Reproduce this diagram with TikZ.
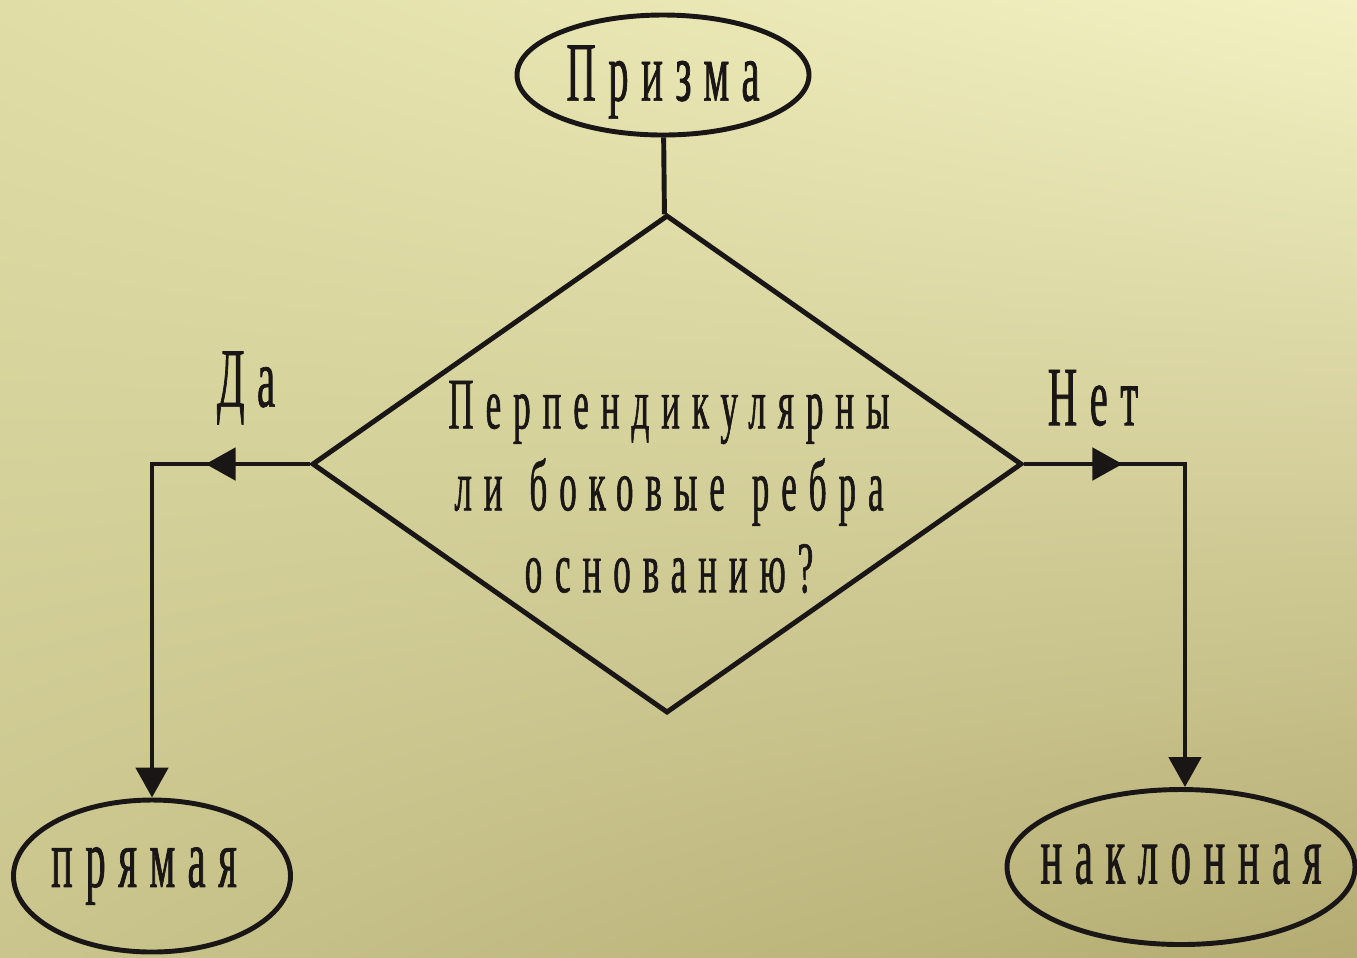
\documentclass[tikz,border=0pt]{standalone}
\usepackage{fontspec}
\usepackage{tikz}
\usetikzlibrary{arrows.meta, shapes.geometric, shadings, calc, positioning, decorations.markings}
\newfontfamily\flowfont[FakeStretch=0.48, LetterSpace=15, FakeBold=0.8]{Liberation Serif}
\newfontfamily\questfont[FakeStretch=0.48, LetterSpace=16.5, WordSpace=1.3, FakeBold=0.8]{Liberation Serif}
\definecolor{bgul}{HTML}{E0DDA6}
\definecolor{bgur}{HTML}{F3F1C3}
\definecolor{bgll}{HTML}{C9C58D}
\definecolor{bglr}{HTML}{B4AC72}
\definecolor{ink}{HTML}{1A1616}
\tikzset{
    terminal/.style={draw=ink, ellipse, line width=1.4pt, inner sep=0cm},
    decision/.style={draw=ink, diamond, line width=1.4pt, inner sep=0cm, minimum width=7.1cm, minimum height=4.98cm},
    flowtext/.style={text=ink, inner sep=0cm, font=\flowfont\fontsize{24}{24}\selectfont},
    flowline/.style={draw=ink, line width=1.4pt},
    tipflow/.style={-{Triangle[length=3mm, width=3.2mm]}},
    midtip/.style={postaction={decorate}, decoration={markings, mark=at position #1 with {\arrow{Triangle[length=3mm, width=3.2mm]}}}}
}
\newcommand{\nterminal}[6]{
    \node[terminal, minimum width=#4, minimum height=#5, label={[flowtext, shift={#6}]center:#3}] (#1) at (#2) {};
}

\begin{document}
\begin{tikzpicture}
                    \shade[upper left=bgul, upper right=bgur, lower left=bgll, lower right=bglr] (0, 0) rectangle (13.57, -9.57);
                    \useasboundingbox (0, 0) rectangle (13.57, -9.57);
                    \nterminal{prism}{6.63, -0.75}{Призма}{2.92cm}{1.2cm}{(0, -0.07)}
                    \node[decision] (quest) at (6.67, -4.64) {};
                    \node[flowtext, align=center, font=\questfont\fontsize{20.7}{23.3}\selectfont] (quest-t) at (6.69, -4.87) {Перпендикулярны\\ли боковые ребра\\основанию?};
                    \nterminal{straight}{1.52, -8.76}{прямая}{2.77cm}{1.52cm}{(-0.08, 0)}
                    \nterminal{oblique}{11.81, -8.67}{наклонная}{3.48cm}{1.55cm}{(0, 0.03)}
                    \node[flowtext] (yes) at (2.46, -3.88) {Да};
                    \node[flowtext] (no) at (10.93, -3.98) {Нет};
                    \draw[flowline]
                    (prism) -- (quest);
                    \draw[flowline, tipflow, midtip=1.04cm]
                    (quest.west) -| (straight.north);
                    \draw[flowline, tipflow, midtip=0.98cm]
                    (quest.east) -| ($(oblique.north) + (0.04, 0)$);
                \end{tikzpicture}
\end{document}
